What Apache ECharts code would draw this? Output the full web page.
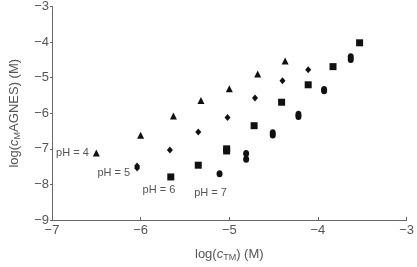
<!DOCTYPE html>
<html><head><meta charset="utf-8">
<script src="https://cdn.jsdelivr.net/npm/echarts@6/dist/echarts.min.js"></script>
<style>html,body{margin:0;padding:0;background:#fff}#c{width:417px;height:267px}</style>
</head><body><div id="c"></div>
<script>
const xTicks = [-7, -6, -5, -4, -3];
const yTicks = [-9, -8, -7, -6, -5, -4, -3];
const seriesNames = ['pH = 4', 'pH = 5', 'pH = 6', 'pH = 7'];
const ph4 = [[-6.50,-7.12],[-6.00,-6.62],[-5.63,-6.08],[-5.32,-5.64],[-5.00,-5.31],[-4.68,-4.90],[-4.37,-4.53]];
const ph5 = [[-6.04,-7.48],[-6.04,-7.54],[-5.67,-7.03],[-5.35,-6.53],[-5.02,-6.12],[-4.71,-5.57],[-4.40,-5.09],[-4.11,-4.78]];
const ph6 = [[-5.66,-7.79],[-5.35,-7.46],[-5.03,-7.00],[-5.03,-7.06],[-4.72,-6.35],[-4.41,-5.69],[-4.11,-5.20],[-3.83,-4.69],[-3.53,-4.02]];
const ph7 = [[-5.11,-7.70],[-4.81,-7.29],[-4.81,-7.13],[-4.51,-6.61],[-4.51,-6.55],[-4.22,-6.09],[-4.22,-6.03],[-3.93,-5.37],[-3.93,-5.33],[-3.63,-4.49],[-3.63,-4.41]];

const minus = v => String(v).replace('-', '\u2212');
const chart = echarts.init(document.getElementById('c'));
const txt = '#555';
const axisCol = '#666';
function mk(name, data, symbol, size, labelPos, labelOffset) {
  return {
    type: 'scatter', name, symbol, symbolSize: size,
    itemStyle: {color: '#111', opacity: 1},
    data: data.map((d, i) => i === 0 ? {value: d, label: {show: true, formatter: name, position: labelPos, offset: labelOffset, color: txt, fontSize: 11, fontFamily: 'Liberation Sans'}} : d)
  };
}
chart.setOption({
  animation: false,
  grid: {left: 50, top: 5, right: 4, bottom: 46},
  xAxis: {
    type: 'value', min: -7, max: -3, interval: 1,
    name: '{a|log(}{i|c}{s|TM}{a|) (M)}', nameLocation: 'middle', nameGap: 27,
    nameTextStyle: {rich: {
      a: {fontSize: 13, color: txt, fontFamily: 'Liberation Sans'},
      i: {fontSize: 13, color: txt, fontStyle: 'italic', fontFamily: 'Liberation Sans'},
      s: {fontSize: 9, color: txt, fontFamily: 'Liberation Sans', verticalAlign: 'bottom', padding: [6, 0, 0, 0]}
    }},
    axisLine: {lineStyle: {color: axisCol, width: 1}},
    axisTick: {inside: true, length: 3, lineStyle: {color: axisCol}},
    axisLabel: {formatter: minus, color: txt, fontSize: 13, fontFamily: 'Liberation Sans', margin: 4},
    splitLine: {show: false}
  },
  yAxis: {
    type: 'value', min: -9, max: -3, interval: 1,
    name: '{a|log(}{i|c}{s|M}{a|AGNES) (M)}', nameLocation: 'middle', nameGap: 30,
    nameTextStyle: {rich: {
      a: {fontSize: 13, color: txt, fontFamily: 'Liberation Sans'},
      i: {fontSize: 13, color: txt, fontStyle: 'italic', fontFamily: 'Liberation Sans'},
      s: {fontSize: 9, color: txt, fontFamily: 'Liberation Sans', verticalAlign: 'bottom', padding: [6, 0, 0, 0]}
    }},
    axisLine: {show: true, lineStyle: {color: axisCol, width: 1}},
    axisTick: {show: true, inside: false, length: 2, lineStyle: {color: axisCol}},
    axisLabel: {formatter: minus, color: txt, fontSize: 13, fontFamily: 'Liberation Sans', margin: 3},
    splitLine: {show: false}
  },
  series: [
    mk(seriesNames[0], ph4, 'triangle', [7, 7], 'left', [1, 0]),
    mk(seriesNames[1], ph5, 'diamond', [6, 7], 'left', [1, 7]),
    mk(seriesNames[2], ph6, 'rect', 7, 'left', [13, 13]),
    mk(seriesNames[3], ph7, 'circle', [6, 7], 'bottom', [-9, 5])
  ]
});
</script></body></html>
